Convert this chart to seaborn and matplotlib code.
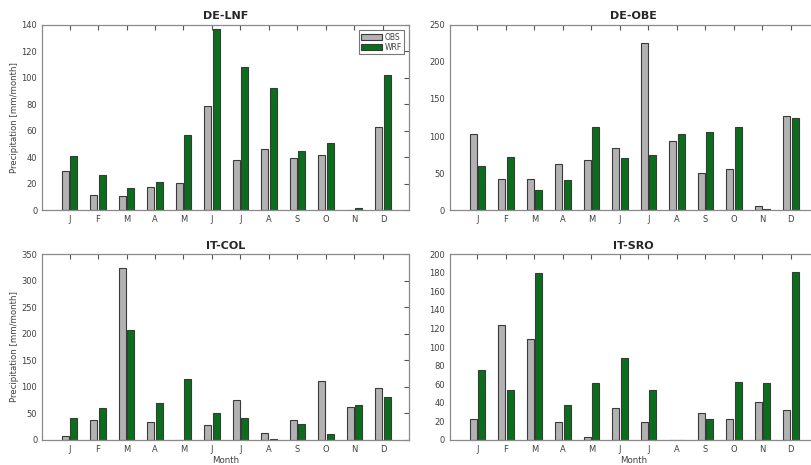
import pandas as pd
import matplotlib.pyplot as plt
import seaborn as sns

# monthly precipitation [mm/month]
months = ["J", "F", "M", "A", "M", "J", "J", "A", "S", "O", "N", "D"]
sites = ["DE-LNF", "DE-OBE", "IT-COL", "IT-SRO"]

lnf_obs = [29.5, 11.5, 10.5, 17.5, 20.5, 78.5, 38, 46, 39.5, 41.5, 0, 63]
lnf_wrf = [41, 26.5, 17, 21.5, 57, 137, 108, 92.5, 45, 51, 2, 102.5]
obe_obs = [102.5, 42.5, 42.5, 62.5, 67.5, 83.5, 225, 93, 50, 55.5, 5, 127]
obe_wrf = [60, 71.5, 27, 41, 112, 70, 74.5, 102.5, 105.5, 112, 1, 125]
col_obs = [7.5, 37, 325, 33, 0, 28, 74, 12, 38, 110, 61, 97]
col_wrf = [40, 59, 208, 70, 114, 51, 40, 2, 29, 10, 65, 81]
sro_obs = [22.5, 124, 109, 19, 3, 34, 19, 0, 28.5, 22, 41, 32]
sro_wrf = [75.5, 53.5, 180, 37, 61, 88, 53.5, 0, 22, 62, 61, 181]

obs = [lnf_obs, obe_obs, col_obs, sro_obs]
wrf = [lnf_wrf, obe_wrf, col_wrf, sro_wrf]
ymax = [140, 250, 350, 200]
ystep = [20, 50, 50, 20]

palette = {"OBS": "#b2b2b2", "WRF": "#0b6e1c"}
text_col = "#404040"

sns.set_style("white")
plt.rcParams["font.family"] = ["DejaVu Sans"]

fig = plt.figure(figsize=(8.11, 4.65), dpi=100)
boxes = [
    [0.052, 0.548, 0.4525, 0.3985],
    [0.555, 0.548, 0.4525, 0.3985],
    [0.052, 0.0545, 0.4525, 0.3985],
    [0.555, 0.0545, 0.4525, 0.3985],
]

for i, site in enumerate(sites):
    ax = fig.add_axes(boxes[i])
    df = pd.DataFrame({
        "month": list(range(1, 13)) * 2,
        "value": obs[i] + wrf[i],
        "source": ["OBS"] * 12 + ["WRF"] * 12,
    })
    sns.barplot(data=df, x="month", y="value", hue="source", palette=palette,
                width=0.6, gap=0.2, saturation=1, edgecolor="#3a3a3a",
                linewidth=0.8, ax=ax, legend=(i == 0))
    ax.set_xlim(-0.96, 11.92)
    ax.set_ylim(0, ymax[i])
    ax.set_yticks(range(0, ymax[i] + 1, ystep[i]))
    ax.set_xticks(range(12))
    ax.set_xticklabels(months)
    ax.tick_params(direction="in", top=True, right=True, length=3.5,
                   width=0.8, color="#555555", labelsize=6,
                   labelcolor=text_col, pad=3.5)
    for s in ax.spines.values():
        s.set_color("#8a8a8a")
        s.set_linewidth(0.9)
    ax.set_title(site, fontsize=8, fontweight="bold", pad=4)
    if i % 2 == 0:
        ax.set_ylabel("Precipitation [mm/month]", fontsize=6.2, color=text_col,
                      labelpad=2)
    else:
        ax.set_ylabel("")
    if i >= 2:
        ax.set_xlabel("Month", fontsize=6.2, color=text_col, labelpad=2)
    else:
        ax.set_xlabel("")
    if i == 0:
        leg = ax.legend(loc="upper right", fontsize=5.5, frameon=True,
                        fancybox=False, handlelength=2.7, handleheight=0.9,
                        borderpad=0.3, labelspacing=0.15, handletextpad=0.3,
                        borderaxespad=0.7)
        leg.get_frame().set_edgecolor("#555555")
        leg.get_frame().set_linewidth(0.8)
        for t in leg.get_texts():
            t.set_color(text_col)

fig.savefig("out.png", dpi=100)
